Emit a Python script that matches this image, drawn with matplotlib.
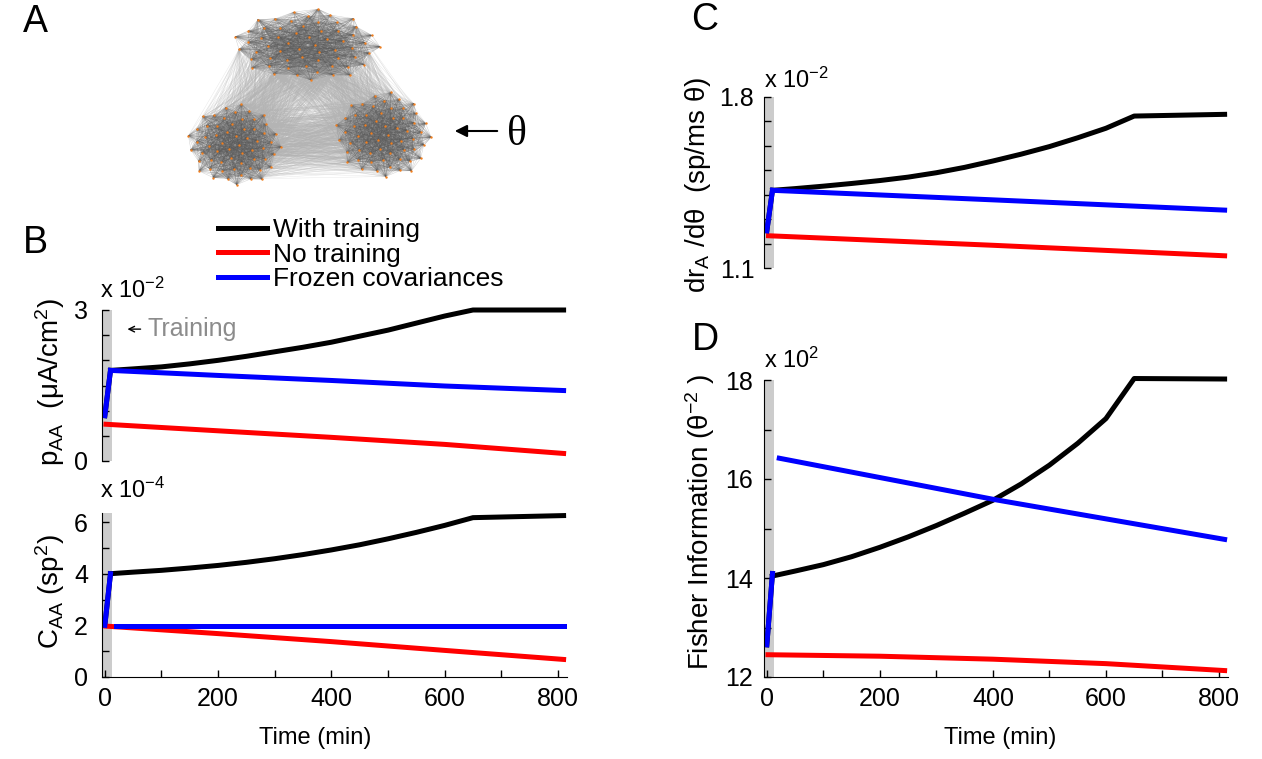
import numpy as np
import matplotlib
matplotlib.use('Agg')
import matplotlib.pyplot as plt
from matplotlib.collections import LineCollection
from matplotlib.lines import Line2D
from matplotlib.ticker import FixedLocator

plt.rcParams['font.family'] = ['Liberation Sans', 'DejaVu Sans']
plt.rcParams['mathtext.fontset'] = 'custom'
plt.rcParams['mathtext.rm'] = 'Liberation Sans'
plt.rcParams['mathtext.it'] = 'Liberation Sans:italic'
plt.rcParams['mathtext.sf'] = 'Liberation Sans'

# ---- data ----
t_train = [0, 10]
t_post = [10, 50, 100, 150, 200, 250, 300, 350, 400, 450, 500, 550, 600, 650, 810]
t_lin = [10, 200, 400, 600, 810]
t_none = [2, 200, 400, 600, 810]

# B top: p_AA (x 1e-2 uA/cm^2)
pAA_train = [0.9, 1.8]
pAA_with = [1.8, 1.83, 1.87, 1.93, 2.0, 2.08, 2.17, 2.26, 2.36, 2.48, 2.6, 2.74, 2.88, 3.0, 3.0]
pAA_frozen = [1.8, 1.70, 1.60, 1.49, 1.4]
pAA_none = [0.73, 0.6, 0.47, 0.33, 0.15]

# B bottom: C_AA (x 1e-4 sp^2)
cAA_train = [2.0, 4.0]
cAA_with = [4.0, 4.06, 4.13, 4.22, 4.32, 4.44, 4.58, 4.74, 4.92, 5.12, 5.35, 5.6, 5.87, 6.17, 6.25]
t_cAA_frozen = [20, 810]
cAA_frozen = [1.97, 1.97]
cAA_none = [1.97, 1.68, 1.37, 1.03, 0.68]

# C: dr_A/dtheta (x 1e-2)
dr_train = [1.252, 1.418]
dr_with = [1.418, 1.425, 1.435, 1.446, 1.458, 1.472, 1.49, 1.512, 1.538, 1.566, 1.597, 1.633,
           1.672, 1.722, 1.729]
t_dr_frozen = [10, 400, 810]
dr_frozen = [1.418, 1.379, 1.337]
t_dr_none = [3, 400, 810]
dr_none = [1.232, 1.193, 1.15]

# D: Fisher information (x 1e2)
fi_train = [12.65, 14.09]
fi_with = [14.04, 14.14, 14.27, 14.43, 14.62, 14.83, 15.06, 15.31, 15.57, 15.9, 16.28, 16.72,
           17.22, 18.03, 18.02]
t_fi_frozen = [22, 405, 810]
fi_frozen = [16.42, 15.58, 14.78]
fi_none = [12.45, 12.42, 12.36, 12.27, 12.13]

labels = ['With training', 'No training', 'Frozen covariances']

# network sketch (panel A): cluster centres / radii in figure pixels
cl_x = [308, 235, 384]
cl_y = [45, 145, 135]
cl_rx = [75, 48, 49]
cl_ry = [37, 42, 44]
n_nodes = 60

W, H = 1262, 759
LW = 3.6
FS = 18


def box(l, t, r, b):
    return [l / W, 1 - b / H, (r - l) / W, (b - t) / H]


def style(ax, ylim, major, minor, xaxis, ypad):
    ax.set_xlim(-5, 816)
    ax.set_ylim(*ylim)
    ax.spines['top'].set_visible(False)
    ax.spines['right'].set_visible(False)
    ax.axvspan(-5, 12, color='#cccccc', lw=0, zorder=0)
    ax.set_yticks(major)
    ax.yaxis.set_minor_locator(FixedLocator(minor))
    ax.tick_params(which='both', direction='in', length=5, width=1, labelsize=FS)
    ax.tick_params(axis='y', pad=ypad)
    ax.tick_params(axis='x', pad=7)
    if xaxis:
        ax.set_xticks([0, 200, 400, 600, 800])
        ax.xaxis.set_minor_locator(FixedLocator([100, 300, 500, 700]))
    else:
        ax.spines['bottom'].set_visible(False)
        ax.set_xticks([])
        ax.xaxis.set_minor_locator(FixedLocator([]))


def curves(ax, ytr, tw, yw, tn, yn, tf, yf):
    ax.plot(t_train, ytr, color='k', lw=LW, clip_on=False)
    ax.plot(tw, yw, color='k', lw=LW, clip_on=False)
    ax.plot(tn, yn, color='#ff0000', lw=LW, clip_on=False)
    ax.plot(tf, yf, color='#0000ff', lw=LW, clip_on=False)
    ax.plot(t_train, ytr, color='#0000ff', lw=LW, clip_on=False)


fig = plt.figure(figsize=(12.62, 7.59), dpi=100)

# ---- panel A: network ----
axA = fig.add_axes(box(170, 0, 540, 195))
axA.set_xlim(170, 540)
axA.set_ylim(195, 0)
axA.axis('off')
k = np.arange(n_nodes)
rr = np.sqrt((k + 0.5) / n_nodes)
ang = k * 2.39996
nodes = []
for cx, cy, rx, ry in zip(cl_x, cl_y, cl_rx, cl_ry):
    nodes.append(np.column_stack([cx + rx * rr * np.cos(ang), cy + ry * rr * np.sin(ang)]))
between = []
for a in range(3):
    for b in range(a + 1, 3):
        for i in range(n_nodes):
            for j in range(n_nodes):
                if (i * 7 + j * 3) % 6 == 0:
                    between.append([nodes[a][i], nodes[b][j]])
axA.add_collection(LineCollection(between, colors='#b4b4b4', linewidths=0.3, alpha=0.35))
within = []
for p in nodes:
    for i in range(n_nodes):
        for j in range(i + 1, n_nodes):
            if (i + j) % 2 == 0:
                within.append([p[i], p[j]])
axA.add_collection(LineCollection(within, colors='#5a5a5a', linewidths=0.35, alpha=0.28))
allp = np.vstack(nodes)
axA.scatter(allp[:, 0], allp[:, 1], s=3, color='#f07f20', zorder=3, lw=0)
axA.annotate('', xy=(452, 131), xytext=(500, 131),
             arrowprops=dict(arrowstyle='-|>', color='k', lw=1.5, mutation_scale=18))
axA.text(517, 135, 'θ', fontsize=30, family='Liberation Serif', ha='center', va='center')

# ---- panel B top ----
axB1 = fig.add_axes(box(102, 310, 567, 461))
style(axB1, (0, 3), [0, 3], [0.5, 1, 1.5, 2, 2.5], False, 10)
curves(axB1, pAA_train, t_post, pAA_with, t_none, pAA_none, t_lin, pAA_frozen)
axB1.annotate('', xy=(35, 2.62), xytext=(68, 2.62),
              arrowprops=dict(arrowstyle='->', color='k', lw=1))
axB1.text(75, 2.62, 'Training', color='#8c8c8c', fontsize=FS, va='center', ha='left')

# ---- panel B bottom ----
axB2 = fig.add_axes(box(102, 513, 567, 677))
style(axB2, (0, 6.35), [0, 2, 4, 6], [1, 3, 5], True, 10)
axB2.plot(t_train, cAA_train, color='k', lw=LW)
axB2.plot(t_post, cAA_with, color='k', lw=LW, clip_on=False)
axB2.plot(t_none, cAA_none, color='#ff0000', lw=LW)
axB2.plot(t_cAA_frozen, cAA_frozen, color='#0000ff', lw=LW)
axB2.plot(t_train, cAA_train, color='#0000ff', lw=LW)

# ---- panel C ----
axC = fig.add_axes(box(764, 97, 1228, 268))
style(axC, (1.1, 1.8), [1.1, 1.8], [1.2, 1.3, 1.4, 1.5, 1.6, 1.7], False, 7)
axC.set_yticklabels(['1.1', '1.8'])
curves(axC, dr_train, t_post, dr_with, t_dr_none, dr_none, t_dr_frozen, dr_frozen)

# ---- panel D ----
axD = fig.add_axes(box(764, 380, 1228, 677))
style(axD, (12, 18), [12, 14, 16, 18], [13, 15, 17], True, 8)
curves(axD, fi_train, t_post, fi_with, t_none, fi_none, t_fi_frozen, fi_frozen)

# ---- texts ----
for s, x, y in [('A', 35, 22), ('B', 35, 243), ('C', 705, 20), ('D', 705, 340)]:
    fig.text(x / W, 1 - y / H, s, fontsize=27, ha='center', va='center')

for s, x, y in [(r'x 10$^{-2}$', 100, 298), (r'x 10$^{-4}$', 100, 498),
                (r'x 10$^{-2}$', 764, 88), (r'x 10$^{2}$', 764, 368)]:
    fig.text(x / W, 1 - y / H, s, fontsize=17, ha='left', va='baseline')

ylabs = [(r'p$_{\rm AA}$  (μA/cm$^{2}$)', 50, 382),
         (r'C$_{\rm AA}$ (sp$^{2}$)', 50, 592),
         (r'dr$_{\rm A}$ /dθ  (sp/ms θ)', 698, 185),
         (r'Fisher Information (θ$^{-2}$ )', 700, 522)]
for s, x, y in ylabs:
    fig.text(x / W, 1 - y / H, s, fontsize=20, rotation=90, ha='center', va='center')

for x in [315, 1000]:
    fig.text(x / W, 1 - 738 / H, 'Time (min)', fontsize=17, ha='center', va='center')

handles = [Line2D([], [], color=c, lw=LW) for c in ['k', '#ff0000', '#0000ff']]
fig.legend(handles, labels, loc='upper left', bbox_to_anchor=(218 / W, 1 - 218 / H),
           frameon=False, fontsize=19, handlelength=1.85, handletextpad=0.25,
           labelspacing=0.02, borderpad=0, borderaxespad=0)

fig.savefig('out.png', dpi=100)
